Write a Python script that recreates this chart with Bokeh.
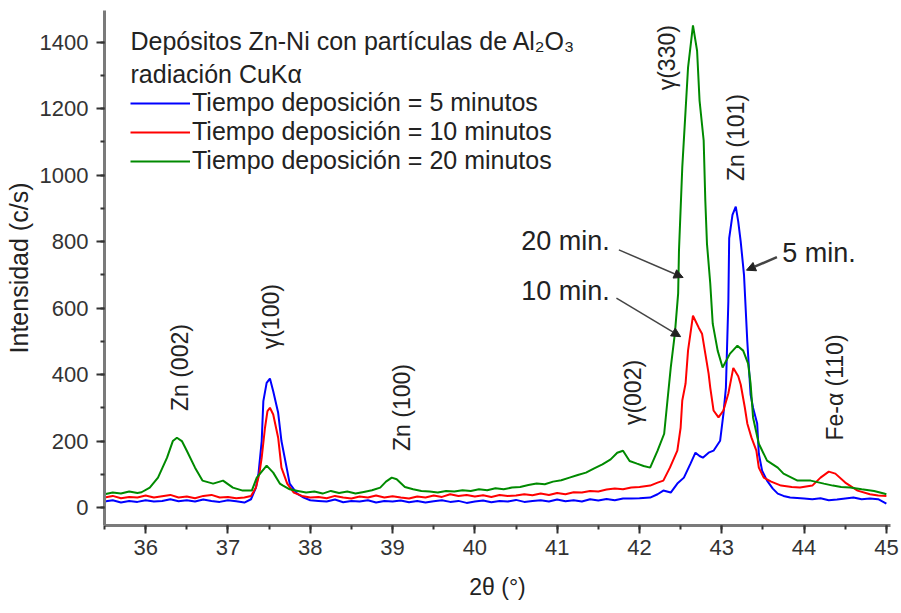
import math
from bokeh.plotting import figure
from bokeh.models import (Range1d, SingleIntervalTicker, Legend, LegendItem, Label,
                          Arrow, NormalHead, ColumnDataSource)
from bokeh.core.properties import value
from bokeh.embed import file_html
from bokeh.resources import INLINE

FONT = "Liberation Sans"

# ---------------- data ----------------
x_5min = [35.50, 35.60, 35.70, 35.80, 35.90, 36.00, 36.10, 36.20, 36.30, 36.40, 36.50, 36.60,
          36.70, 36.80, 36.90, 37.00, 37.10, 37.20, 37.28, 37.34, 37.37, 37.41, 37.43, 37.47,
          37.51, 37.55, 37.61, 37.65, 37.72, 37.75, 37.84, 37.92, 38.00, 38.10, 38.20, 38.30,
          38.40, 38.50, 38.60, 38.70, 38.80, 38.90, 39.00, 39.10, 39.20, 39.30, 39.40, 39.50,
          39.60, 39.70, 39.80, 39.90, 40.00, 40.10, 40.20, 40.30, 40.40, 40.50, 40.60, 40.70,
          40.80, 40.90, 41.00, 41.10, 41.20, 41.30, 41.40, 41.50, 41.60, 41.70, 41.80, 41.90,
          42.00, 42.13, 42.22, 42.29, 42.38, 42.46, 42.54, 42.62, 42.68, 42.73, 42.77, 42.84,
          42.90, 42.98, 43.02, 43.05, 43.08, 43.09, 43.13, 43.17, 43.20, 43.23, 43.27, 43.31,
          43.35, 43.38, 43.43, 43.45, 43.49, 43.55, 43.62, 43.68, 43.75, 43.83, 44.00, 44.10,
          44.20, 44.30, 44.40, 44.50, 44.60, 44.70, 44.80, 44.90, 45.00]
y_5min = [18, 22, 15, 20, 17, 22, 18, 20, 25, 19, 22, 18,
          24, 20, 17, 22, 19, 15, 25, 60, 100, 200, 320, 375,
          388, 350, 285, 200, 111, 72, 42, 30, 22, 20, 18, 24,
          16, 20, 18, 22, 15, 20, 18, 21, 16, 20, 15, 19,
          22, 17, 20, 14, 18, 21, 16, 20, 18, 23, 17, 20,
          22, 18, 24, 19, 22, 18, 25, 21, 26, 22, 27, 27,
          28, 30, 40, 51, 45, 72, 90, 132, 165, 155, 150, 165,
          171, 201, 282, 360, 620, 810, 880, 905, 860, 800, 700, 500,
          340, 300, 253, 162, 111, 81, 57, 42, 35, 30, 27, 25,
          28, 22, 24, 27, 30, 25, 27, 25, 12]

x_10min = [35.50, 35.60, 35.70, 35.80, 35.90, 36.00, 36.10, 36.20, 36.30, 36.40, 36.50, 36.60,
           36.70, 36.80, 36.90, 37.00, 37.10, 37.20, 37.28, 37.34, 37.38, 37.41, 37.45, 37.48,
           37.51, 37.55, 37.61, 37.65, 37.72, 37.80, 37.90, 38.00, 38.10, 38.20, 38.30, 38.40,
           38.50, 38.60, 38.70, 38.80, 38.90, 39.00, 39.10, 39.20, 39.30, 39.40, 39.50, 39.60,
           39.70, 39.80, 39.90, 40.00, 40.10, 40.20, 40.30, 40.40, 40.50, 40.60, 40.70, 40.80,
           40.90, 41.00, 41.10, 41.20, 41.30, 41.40, 41.50, 41.60, 41.70, 41.80, 41.90, 42.00,
           42.13, 42.22, 42.29, 42.37, 42.46, 42.50, 42.52, 42.56, 42.59, 42.65, 42.72, 42.76,
           42.80, 42.84, 42.86, 42.90, 42.96, 43.02, 43.08, 43.14, 43.20, 43.23, 43.28, 43.31,
           43.36, 43.42, 43.45, 43.51, 43.60, 43.72, 43.85, 43.95, 44.10, 44.20, 44.30, 44.38,
           44.50, 44.65, 44.80, 44.90, 45.00]
y_10min = [30, 35, 28, 32, 30, 36, 30, 34, 38, 30, 33, 28,
           35, 38, 30, 32, 28, 30, 35, 60, 100, 150, 240, 290,
           300, 280, 210, 120, 72, 45, 35, 30, 32, 28, 35, 30,
           27, 33, 30, 36, 30, 34, 30, 27, 33, 30, 36, 32,
           40, 35, 38, 33, 37, 32, 38, 35, 36, 40, 37, 42,
           38, 44, 40, 46, 45, 50, 48, 54, 57, 55, 60, 62,
           66, 75, 81, 120, 171, 240, 322, 373, 472, 577, 541, 523,
           463, 403, 361, 292, 271, 292, 343, 420, 395, 370, 301, 253,
           211, 171, 120, 90, 78, 66, 62, 60, 66, 90, 108, 102,
           75, 51, 40, 36, 35]

x_20min = [35.50, 35.60, 35.70, 35.80, 35.90, 35.95, 36.05, 36.15, 36.26, 36.33, 36.38, 36.44,
           36.50, 36.60, 36.69, 36.82, 36.94, 37.06, 37.18, 37.29, 37.35, 37.47, 37.55, 37.63,
           37.67, 37.75, 37.85, 37.95, 38.05, 38.15, 38.25, 38.35, 38.45, 38.55, 38.65, 38.75,
           38.85, 38.92, 38.99, 39.05, 39.15, 39.25, 39.35, 39.45, 39.55, 39.65, 39.75, 39.85,
           39.95, 40.05, 40.15, 40.25, 40.35, 40.45, 40.55, 40.65, 40.75, 40.85, 40.95, 41.05,
           41.15, 41.25, 41.35, 41.45, 41.55, 41.65, 41.73, 41.80, 41.88, 41.97, 42.05, 42.13,
           42.22, 42.30, 42.34, 42.38, 42.43, 42.47, 42.48, 42.52, 42.56, 42.59, 42.65, 42.70,
           42.73, 42.78, 42.80, 42.82, 42.86, 42.89, 42.95, 43.01, 43.10, 43.19, 43.26, 43.32,
           43.35, 43.38, 43.45, 43.55, 43.68, 43.75, 43.92, 44.08, 44.24, 44.35, 44.45, 44.56,
           44.70, 44.85, 44.97, 45.00]
y_20min = [40, 45, 42, 48, 44, 46, 60, 90, 150, 200, 210, 200,
           171, 120, 81, 72, 81, 60, 51, 51, 90, 126, 105, 72,
           66, 55, 50, 45, 48, 42, 50, 44, 48, 42, 47, 52,
           60, 78, 90, 85, 62, 55, 50, 48, 45, 50, 48, 52,
           50, 55, 52, 58, 55, 60, 62, 68, 72, 70, 78, 82,
           90, 98, 105, 118, 130, 145, 165, 171, 140, 132, 125, 120,
           171, 222, 322, 421, 523, 644, 773, 1023, 1194, 1323, 1450, 1374,
           1224, 1104, 923, 794, 674, 553, 472, 421, 463, 487, 472, 433,
           373, 271, 192, 141, 120, 102, 81, 81, 72, 66, 62, 60,
           55, 50, 42, 40]

series_labels = ["Tiempo deposición = 5 minutos",
                 "Tiempo deposición = 10 minutos",
                 "Tiempo deposición = 20 minutos"]
series_colors = ["#0000ff", "#ff0000", "#008a00"]

header_lines = ["Depósitos Zn-Ni con partículas de Al₂O₃", "radiación CuKα"]
header_x = [35.816, 35.816]
header_y = [1404, 1305]

peak_labels = ["Zn (002)", "γ(100)", "Zn (100)", "γ(002)", "γ(330)", "Zn (101)", "Fe-α (110)"]
peak_x = [36.42, 37.52, 39.11, 41.92, 42.33, 43.17, 44.38]
peak_y = [421, 574, 301, 346, 1353, 1113, 361]

time_labels = ["20 min.", "10 min.", "5 min."]
time_x = [41.10, 41.10, 44.18]
time_y = [803, 650, 767]

arrow_x0 = [41.75, 41.72, 43.67]
arrow_y0 = [775, 630, 753]
arrow_x1 = [42.53, 42.50, 43.30]
arrow_y1 = [692, 514, 714]

# ---------------- figure ----------------
p = figure(width=901, height=613, output_backend="svg", toolbar_location=None,
           x_range=Range1d(35.5, 45.05), y_range=Range1d(-54, 1495),
           min_border_left=104, min_border_right=11, min_border_top=10, min_border_bottom=88)
p.outline_line_color = None
p.xgrid.visible = False
p.ygrid.visible = False
p.background_fill_color = "white"

p.xaxis.ticker = SingleIntervalTicker(interval=1, num_minor_ticks=2)
p.yaxis.ticker = SingleIntervalTicker(interval=200, num_minor_ticks=2)
for ax in (p.xaxis, p.yaxis):
    ax.axis_line_color = "#7a7a7a"
    ax.axis_line_width = 3
    ax.major_tick_line_color = "#333333"
    ax.major_tick_line_width = 2
    ax.major_tick_out = 8
    ax.major_tick_in = 0
    ax.minor_tick_line_color = "#333333"
    ax.minor_tick_line_width = 2
    ax.minor_tick_out = 4
    ax.minor_tick_in = 0
    ax.major_label_text_font = FONT
    ax.major_label_text_font_size = "22px"
    ax.major_label_text_color = "#333333"
    ax.axis_label_text_font = FONT
    ax.axis_label_text_font_style = "normal"
    ax.axis_label_text_color = "#222222"
p.xaxis.axis_label_text_font_size = "23px"
p.yaxis.axis_label_text_font_size = "25px"
p.yaxis.major_label_standoff = 8
p.xaxis.major_label_standoff = 6
p.xaxis.axis_label = "2θ (°)"
p.yaxis.axis_label = "Intensidad (c/s)"
p.xaxis.axis_label_standoff = 16
p.yaxis.axis_label_standoff = 4

renderers = []
for xs, ys, c in zip([x_5min, x_10min, x_20min], [y_5min, y_10min, y_20min], series_colors):
    r = p.line(xs, ys, line_color=c, line_width=2)
    renderers.append(r)

legend = Legend(items=[LegendItem(label=l, renderers=[r]) for l, r in zip(series_labels, renderers)],
                location=(26, 350), orientation="vertical",
                glyph_width=60, glyph_height=20, label_height=20, label_standoff=2,
                spacing=0, padding=0, margin=0,
                border_line_alpha=0, background_fill_alpha=0,
                label_text_font=FONT, label_text_font_size="25px", label_text_color="#222222")
p.add_layout(legend)

for t, hx, hy in zip(header_lines, header_x, header_y):
    p.add_layout(Label(x=hx, y=hy, text=t, text_baseline="middle", text_align="left",
                       text_font=FONT, text_font_size="25px", text_color="#222222"))

src_peaks = ColumnDataSource(dict(x=peak_x, y=peak_y, t=peak_labels))
p.text(x="x", y="y", text="t", source=src_peaks, angle=math.pi / 2,
       text_align="center", text_baseline="middle",
       text_font=value(FONT), text_font_size="23px", text_color="#222222")

src_times = ColumnDataSource(dict(x=time_x, y=time_y, t=time_labels))
p.text(x="x", y="y", text="t", source=src_times,
       text_align="center", text_baseline="middle",
       text_font=value(FONT), text_font_size="27px", text_font_style="normal",
       text_color="#222222")

for x0, y0, x1, y1, lw in zip(arrow_x0, arrow_y0, arrow_x1, arrow_y1, [1.5, 1.5, 2.5]):
    p.add_layout(Arrow(end=NormalHead(size=9, fill_color="#222222", line_color="#222222"),
                       x_start=x0, y_start=y0, x_end=x1, y_end=y1,
                       line_color="#444444", line_width=lw))

open("out.html", "w").write(file_html(p, INLINE))
